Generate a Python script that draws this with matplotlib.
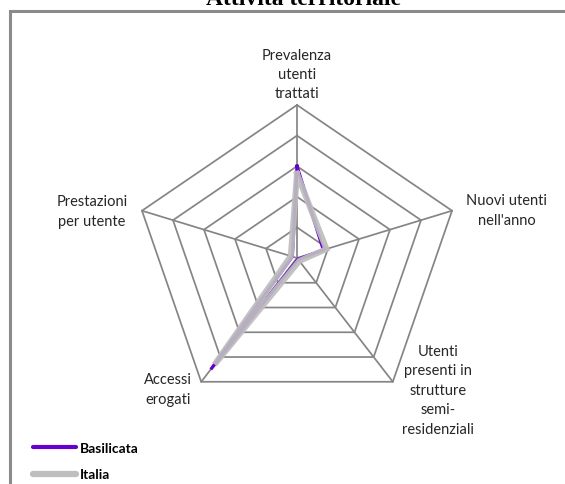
import matplotlib.pyplot as plt
import numpy as np
from matplotlib.patches import Rectangle

# dati (scala: 5 anelli da 0.1)
categories = ['Prevalenza\nutenti\ntrattati', 'Nuovi utenti\nnell\'anno',
              'Utenti\npresenti in\nstrutture\nsemi-\nresidenziali',
              'Accessi\nerogati', 'Prestazioni\nper utente']
basilicata = [0.30, 0.085, 0.005, 0.45, 0.015]
italia = [0.275, 0.095, 0.012, 0.43, 0.02]
rings = [0.1, 0.2, 0.3, 0.4, 0.5]

W, H = 565, 485
fig = plt.figure(figsize=(W / 100, H / 100), dpi=100)
ax = fig.add_axes([0, 0, 1, 1])
ax.axis('off')

# centro (297, 259) px, raggio 163 px in orizzontale, 153 px in verticale
sx = 163 / 0.5
sy = 153 / 0.5
ax.set_xlim(-297 / sx, (W - 297) / sx)
ax.set_ylim((259 - H) / sy, 259 / sy)

n = len(categories)
theta = np.pi / 2 - 2 * np.pi * np.arange(n) / n


def to_xy(vals):
    v = np.array(vals + vals[:1])
    t = np.append(theta, theta[0])
    return v * np.cos(t), v * np.sin(t)


grid_col = '#858585'
for r in rings:
    gx, gy = to_xy([r] * n)
    ax.plot(gx, gy, color=grid_col, lw=1.25, zorder=1)
for t in theta:
    ax.plot([0, rings[-1] * np.cos(t)], [0, rings[-1] * np.sin(t)],
            color=grid_col, lw=1.25, zorder=1)

bx, by = to_xy(basilicata)
ax.plot(bx, by, color='#6600CC', lw=2.3, solid_joinstyle='miter', zorder=3, label='Basilicata')
ix, iy = to_xy(italia)
ax.plot(ix, iy, color='#BEBEBE', lw=4.3, alpha=0.93, solid_joinstyle='miter', zorder=4, label='Italia')

# etichette degli assi (posizioni in pixel)
lab_pos = [(297, 75), (507, 211), (438, 391), (168, 390), (92, 212)]
for lab, (px, py) in zip(categories, lab_pos):
    fig.text(px / W, 1 - py / H, lab, ha='center', va='center', fontsize=10.5,
             family='Lato', color='#262626', linespacing=1.5)

leg = ax.legend(loc='lower left', bbox_to_anchor=(20 / W, 1 - 494 / H),
                bbox_transform=fig.transFigure, frameon=False,
                handlelength=3.1, handletextpad=0.3, labelspacing=1.05,
                prop={'family': 'Lato', 'weight': 'bold', 'size': 10})
for line, w in zip(leg.get_lines(), [3.0, 4.5]):
    line.set_alpha(1)
    line.set_linewidth(w)
    line.set_solid_capstyle('round')

fig.text(303 / W, 1 - 5 / H, 'Attività territoriale', ha='center', va='baseline',
         fontsize=17, fontweight='bold', family='Liberation Serif')

fig.add_artist(Rectangle((9.5 / W, -0.1), 1.2, 1 - 11.5 / H + 0.1,
                         transform=fig.transFigure, fill=False,
                         edgecolor='#8A8A8A', lw=2.2))

fig.savefig('out.png', dpi=100)
